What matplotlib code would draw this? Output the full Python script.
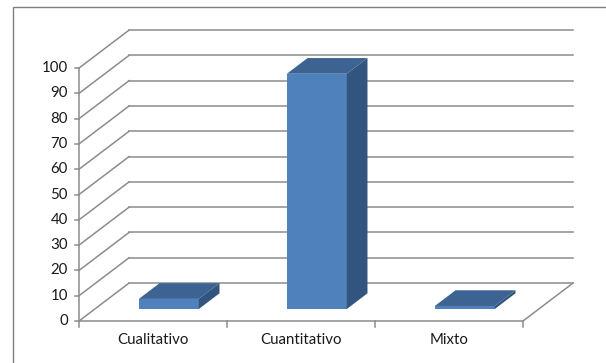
import matplotlib.pyplot as plt
from matplotlib.patches import Polygon, Rectangle

# data
categories = ["Cualitativo", "Cuantitativo", "Mixto"]
values = [4, 93, 1.2]
y_ticks = list(range(0, 101, 10))

# oblique "3d" settings (data units)
DX = 0.338   # depth shift along category axis
DY = 15.0    # depth shift along value axis
D0, D1 = 0.316, 0.73   # bar front / back depth
BAR_W = 0.405
GRID = "#8c8c8c"
FRONT, TOP, SIDE = "#4f81bd", "#3c6392", "#325580"

fig = plt.figure(figsize=(6.06, 3.63), dpi=100)
ax = fig.add_axes([0, 0, 1, 1])
ax.set_xlim(-1.034, 3.061)
ax.set_ylim(-16.6, 126.9)
ax.axis("off")
plt.rcParams['font.family'] = ['Lato', 'DejaVu Sans']

n = len(categories)
x0, x1 = -0.5, n - 0.5

# back wall gridlines + left wall diagonals
for v in y_ticks:
    ax.plot([x0 + DX, x1 + DX], [v + DY, v + DY], color=GRID, lw=1.1, zorder=1)
    ax.plot([x0, x0 + DX], [v, v + DY], color=GRID, lw=1.1, zorder=1)
# floor right edge
ax.plot([x1, x1 + DX], [0, DY], color=GRID, lw=1.1, zorder=1)

# front value axis with ticks
ax.plot([x0, x0], [0, 100], color=GRID, lw=1.1, zorder=2)
for v in y_ticks:
    ax.plot([x0 - 0.025, x0], [v, v], color=GRID, lw=1.1, zorder=2)
    ax.text(x0 - 0.075, v, str(v), ha="right", va="center", fontsize=10.8,
            color="#1a1a1a")

# category axis
ax.plot([x0, x1], [0, 0], color=GRID, lw=1.1, zorder=2)
for k in range(n + 1):
    ax.plot([x0 + k, x0 + k], [0, -2.2], color=GRID, lw=1.1, zorder=2)
for i, c in enumerate(categories):
    ax.text(i, -7.6, c, ha="center", va="center", fontsize=10.8, color="#1a1a1a")

# bars
xs = [i + D0 * DX for i in range(n)]
ax.bar(xs, values, width=BAR_W, bottom=D0 * DY, color=FRONT, zorder=3)
dd = D1 - D0
for x, v in zip(xs, values):
    xl, xr = x - BAR_W / 2, x + BAR_W / 2
    yb, yt = D0 * DY, v + D0 * DY
    top = [(xl, yt), (xr, yt), (xr + dd * DX, yt + dd * DY), (xl + dd * DX, yt + dd * DY)]
    side = [(xr, yb), (xr, yt), (xr + dd * DX, yt + dd * DY), (xr + dd * DX, yb + dd * DY)]
    ax.add_patch(Polygon(top, closed=True, facecolor=TOP, edgecolor="none", zorder=3))
    ax.add_patch(Polygon(side, closed=True, facecolor=SIDE, edgecolor="none", zorder=3))

# chart border
fig.patches.append(Rectangle((13 / 606, -0.1), 1.0, 1 - 7 / 363 + 0.1,
                             transform=fig.transFigure, fill=False,
                             edgecolor="#7f7f7f", lw=1.0))

fig.savefig("out.png", dpi=100)
